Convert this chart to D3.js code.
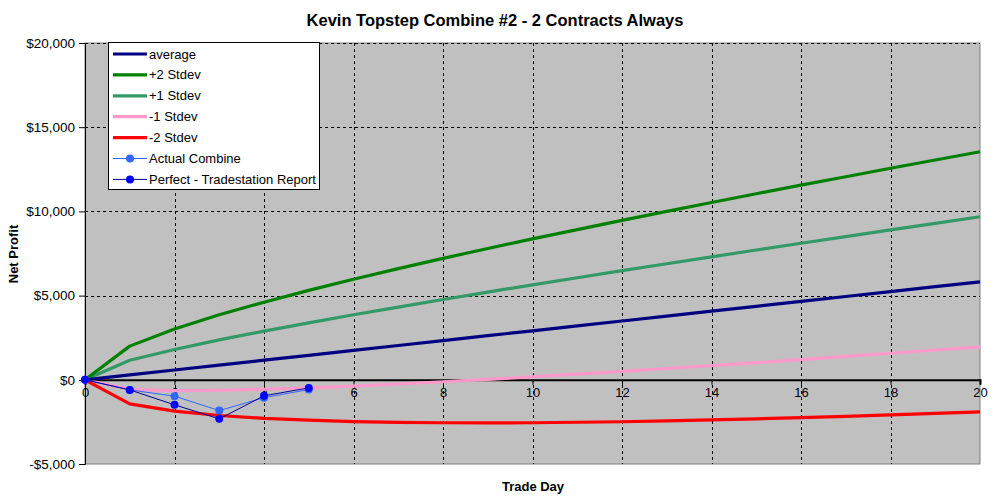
<!DOCTYPE html>
<html>
<head>
<meta charset="utf-8">
<script src="https://cdn.jsdelivr.net/npm/d3@7"></script>
<style>
  html, body { margin: 0; padding: 0; background: #ffffff; }
  svg { display: block; font-family: "Liberation Sans", Arial, sans-serif; }
</style>
</head>
<body>
<svg id="chart" width="992" height="497"></svg>
<script>
// ---- data ----
const days = [0,1,2,3,4,5,6,7,8,9,10,11,12,13,14,15,16,17,18,19,20];
const average = [0,291,582,873,1164,1455,1746,2037,2328,2619,2910,3201,3492,3783,4074,4365,4656,4947,5238,5529,5820];
const plus2 = [0,2000,3020,3860,4610,5310,5970,6600,7210,7800,8370,8920,9470,10000,10530,11050,11560,12060,12560,13050,13540];
const plus1 = [0,1160,1800,2370,2890,3380,3860,4320,4770,5210,5640,6060,6480,6890,7300,7710,8110,8500,8900,9290,9680];
const minus1 = [0,-570,-640,-620,-560,-475,-370,-250,-115,30,180,340,500,670,845,1020,1200,1390,1575,1770,1960];
const minus2 = [0,-1430,-1860,-2120,-2290,-2400,-2480,-2530,-2550,-2555,-2550,-2520,-2490,-2440,-2385,-2320,-2250,-2170,-2085,-1995,-1900];
const actualDays = [0,1,2,3,4,5];
const actualCombine = [0,-600,-970,-1830,-1060,-580];
const perfectReport = [0,-600,-1485,-2320,-950,-480];
const yTicks = [-5000,0,5000,10000,15000,20000];
const xTicks = [0,2,4,6,8,10,12,14,16,18,20];
const seriesNames = ["average","+2 Stdev","+1 Stdev","-1 Stdev","-2 Stdev","Actual Combine","Perfect - Tradestation Report"];

const title = "Kevin Topstep Combine #2 - 2 Contracts Always";
const xTitle = "Trade Day";
const yTitle = "Net Profit";

// ---- layout ----
const W = 992, H = 497;
const plot = {left: 85, right: 980, top: 43, bottom: 464};

const svg = d3.select("#chart");
const x = d3.scaleLinear().domain([0,20]).range([plot.left, plot.right]);
const y = d3.scaleLinear().domain([-5000,20000]).range([plot.bottom, plot.top]);

// plot area
svg.append("rect")
  .attr("x", plot.left).attr("y", plot.top)
  .attr("width", plot.right - plot.left).attr("height", plot.bottom - plot.top)
  .attr("fill", "#c0c0c0").attr("stroke", "#808080").attr("stroke-width", 1);

// horizontal gridlines (dashed)
svg.append("g").selectAll("line")
  .data(yTicks.filter(v => v !== 0 && v !== -5000))
  .join("line")
  .attr("x1", plot.left).attr("x2", plot.right)
  .attr("y1", d => Math.round(y(d)) + 0.5).attr("y2", d => Math.round(y(d)) + 0.5)
  .attr("stroke", "#000").attr("stroke-width", 1).attr("stroke-dasharray", "3,3");

// vertical gridlines (dashed)
svg.append("g").selectAll("line")
  .data(xTicks.filter(v => v !== 0 && v !== 20))
  .join("line")
  .attr("x1", d => Math.round(x(d)) + 0.5).attr("x2", d => Math.round(x(d)) + 0.5)
  .attr("y1", plot.top).attr("y2", plot.bottom)
  .attr("stroke", "#000").attr("stroke-width", 1).attr("stroke-dasharray", "3,3");

// y axis
const yAxis = d3.axisLeft(y).tickValues(yTicks).tickSize(6).tickPadding(4)
  .tickFormat(d => (d < 0 ? "-$" : "$") + d3.format(",")(Math.abs(d)));
const gy = svg.append("g").attr("transform", `translate(${plot.left},0)`).call(yAxis);
gy.select(".domain").attr("stroke", "#000");
gy.selectAll(".tick line").attr("stroke", "#000");
gy.selectAll("text").attr("font-size", 13.5).attr("fill", "#000")
  .attr("font-family", "'Liberation Sans', Arial, sans-serif");

// x axis on the zero line
const xAxis = d3.axisBottom(x).tickValues(xTicks).tickSize(5).tickPadding(3).tickFormat(d3.format("d"));
const gx = svg.append("g").attr("transform", `translate(0,${y(0)})`).call(xAxis);
gx.select(".domain").attr("stroke", "#000").attr("stroke-width", 2);
gx.selectAll(".tick line").attr("stroke", "#000");
gx.selectAll("text").attr("font-size", 13).attr("fill", "#000")
  .attr("font-family", "'Liberation Sans', Arial, sans-serif");

// lines
const line = d3.line().x(d => x(d[0])).y(d => y(d[1]));
const bands = [
  {name: seriesNames[3], vals: minus1, color: "#ff99cc"},
  {name: seriesNames[4], vals: minus2, color: "#ff0000"},
  {name: seriesNames[2], vals: plus1, color: "#339966"},
  {name: seriesNames[1], vals: plus2, color: "#008000"},
  {name: seriesNames[0], vals: average, color: "#000080"}
];
bands.forEach(s => {
  svg.append("path")
    .datum(days.map((d,i) => [d, s.vals[i]]))
    .attr("d", line)
    .attr("fill", "none").attr("stroke", s.color).attr("stroke-width", 3.2)
    .attr("stroke-linejoin", "round");
});

const pts = [
  {name: seriesNames[5], vals: actualCombine, line: "#3366ff", marker: "#3366ff"},
  {name: seriesNames[6], vals: perfectReport, line: "#000099", marker: "#0000ff"}
];
pts.forEach(s => {
  const data = actualDays.map((d,i) => [d, s.vals[i]]);
  svg.append("path").datum(data).attr("d", line)
    .attr("fill", "none").attr("stroke", s.line).attr("stroke-width", 1);
  svg.append("g").selectAll("circle").data(data).join("circle")
    .attr("cx", d => x(d[0])).attr("cy", d => y(d[1])).attr("r", 4)
    .attr("fill", s.marker);
});

// legend
const legend = svg.append("g");
legend.append("rect").attr("x", 108.5).attr("y", 42.5).attr("width", 211).attr("height", 147)
  .attr("fill", "#fff").attr("stroke", "#000").attr("stroke-width", 1);
const legendItems = [
  {name: seriesNames[0], color: "#000080", w: 3.2},
  {name: seriesNames[1], color: "#008000", w: 3.2},
  {name: seriesNames[2], color: "#339966", w: 3.2},
  {name: seriesNames[3], color: "#ff99cc", w: 3.2},
  {name: seriesNames[4], color: "#ff0000", w: 3.2},
  {name: seriesNames[5], color: "#3366ff", w: 1, marker: "#3366ff"},
  {name: seriesNames[6], color: "#000099", w: 1, marker: "#0000ff"}
];
legendItems.forEach((it, i) => {
  const cy = 54 + i * 20.9;
  legend.append("line").attr("x1", 113).attr("x2", 147).attr("y1", cy).attr("y2", cy)
    .attr("stroke", it.color).attr("stroke-width", it.w);
  if (it.marker) legend.append("circle").attr("cx", 130).attr("cy", cy).attr("r", 4).attr("fill", it.marker);
  legend.append("text").attr("x", 149).attr("y", cy + 4.5).attr("font-size", 13).attr("fill", "#000").text(it.name);
});

// titles
svg.append("text").attr("x", 495).attr("y", 26).attr("text-anchor", "middle")
  .attr("font-size", 16.5).attr("font-weight", "bold").text(title);
svg.append("text").attr("x", 533).attr("y", 491).attr("text-anchor", "middle")
  .attr("font-size", 13).attr("font-weight", "bold").text(xTitle);
svg.append("text").attr("transform", "translate(18,254) rotate(-90)").attr("text-anchor", "middle")
  .attr("font-size", 13).attr("font-weight", "bold").text(yTitle);
</script>
</body>
</html>
